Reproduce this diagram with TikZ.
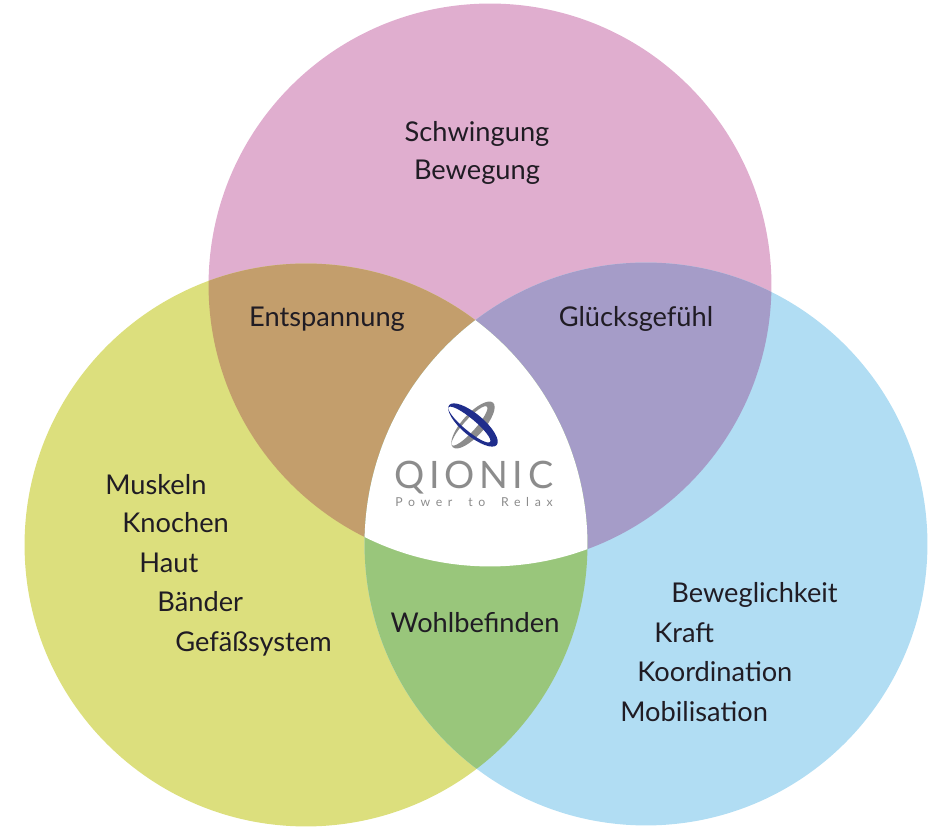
\documentclass[tikz,border=0pt]{standalone}
\usepackage{fontspec}
\setmainfont{Lato}
\usepackage{tikz}
\usetikzlibrary{positioning}
\usepackage{xcolor}
\definecolor{pinkc}{HTML}{E0AECF}
\definecolor{yelc}{HTML}{DCDF7D}
\definecolor{bluec}{HTML}{B1DDF3}
\definecolor{brownc}{HTML}{C39E6C}
\definecolor{purpc}{HTML}{A59CC8}
\definecolor{greenc}{HTML}{99C67B}
\definecolor{txtc}{HTML}{201C24}
\definecolor{logoblue}{HTML}{1F2D8C}
\definecolor{logogray}{HTML}{8C8C8C}
\tikzset{
  lbl/.style={text=txtc, font=\fontsize{15.5}{18}\selectfont, inner sep=0pt},
  lst/.style={lbl, anchor=base west},
  mid/.style={lbl, anchor=base}
}

\begin{document}
\begin{tikzpicture}[x=0.02cm,y=-0.02cm]
\useasboundingbox (0,0) rectangle (938,830);
\coordinate (T) at (490,285);
\coordinate (L) at (306,545);
\coordinate (R) at (646,544);
\def\rr{5.63cm}
% circles
\fill[pinkc] (T) circle(\rr);
\fill[yelc] (L) circle(\rr);
\fill[bluec] (R) circle(\rr);
% overlaps
\begin{scope}
\clip (T) circle(\rr);
\fill[brownc] (L) circle(\rr);
\fill[purpc] (R) circle(\rr);
\end{scope}
\begin{scope}
\clip (L) circle(\rr);
\fill[greenc] (R) circle(\rr);
\end{scope}
\begin{scope}
\clip (T) circle(\rr);
\clip (L) circle(\rr);
\fill[white] (R) circle(\rr);
\end{scope}
% logo
\coordinate (logo) at (473,425);
\fill[logogray, even odd rule, rotate around={48:(logo)}]
  (logo) ellipse (30 and 11) ([shift={(-3,-2)}]logo) ellipse (26 and 6);
\fill[logoblue, even odd rule, rotate around={-40:(logo)}]
  (logo) ellipse (31 and 11) ([shift={(-3,2)}]logo) ellipse (27 and 6);
\node[logogray, font=\fontsize{21.5}{24}\selectfont\addfontfeature{LetterSpace=12}, inner sep=0pt] (qionic) at (474,478) {QIONIC};
\node[logogray, font=\fontsize{7}{8}\selectfont\addfontfeature{LetterSpace=46}, inner sep=0pt] (slogan) at (474,502) {\spaceskip=9pt Power to Relax};
% labels
\node[mid] (schw) at (477,142) {Schwingung};
\node[mid] (beweg) at (477,180) {Bewegung};
\node[mid] (entsp) at (327,327) {Entspannung};
\node[mid] (glueck) at (636,327) {Glücksgefühl};
\node[mid] (wohl) at (475,633) {Wohlbefinden};
\node[lst] (muskeln) at (105,495) {Muskeln};
\node[lst] (knochen) at (122,533) {Knochen};
\node[lst] (haut) at (139,573) {Haut};
\node[lst] (baender) at (157,612) {Bänder};
\node[lst] (gefaess) at (175,652) {Gefäßsystem};
\node[lst] (bewegl) at (671,603) {Beweglichkeit};
\node[lst] (kraft) at (654,643) {Kraft};
\node[lst] (koord) at (637,682) {Koordination};
\node[lst] (mobil) at (620,722) {Mobilisation};
\end{tikzpicture}
\end{document}
